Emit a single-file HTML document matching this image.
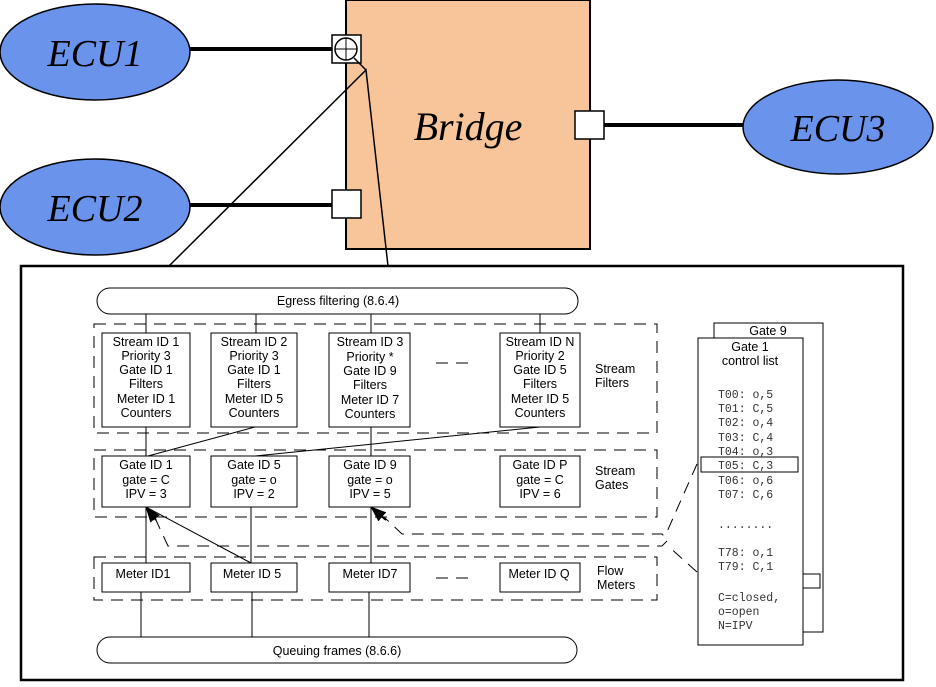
<!DOCTYPE html>
<html><head><style>
body{margin:0;background:#fff;}
svg text{font-family:"Liberation Sans",Arial,sans-serif;}
svg text.ser{font-family:"Liberation Serif","Times New Roman",serif !important;font-style:italic;}
.s{font-size:12.5px;text-anchor:middle;}
svg text.m{font-family:"Liberation Mono",monospace !important;font-size:11.5px;fill:#333;}
</style></head><body>
<svg width="936" height="682" viewBox="0 0 936 682" xmlns="http://www.w3.org/2000/svg">
<defs><marker id="ah" markerWidth="16" markerHeight="12" refX="15" refY="6" orient="auto" markerUnits="userSpaceOnUse"><path d="M0,0 L16,6 L0,12 Z" fill="#000"/></marker></defs>
<rect x="346" y="0" width="244" height="249" fill="#f8c49a" stroke="#000" stroke-width="2"/>
<text class="ser" x="468" y="140" font-size="40" text-anchor="middle">Bridge</text>
<line x1="190" y1="49" x2="332" y2="49" stroke="#000" stroke-width="4"/>
<line x1="190" y1="205" x2="332" y2="205" stroke="#000" stroke-width="4"/>
<line x1="604" y1="125" x2="745" y2="125" stroke="#000" stroke-width="4"/>
<ellipse cx="95" cy="52" rx="95" ry="48" fill="#6a94ec" stroke="#000" stroke-width="1.5"/>
<ellipse cx="95" cy="207" rx="95" ry="48" fill="#6a94ec" stroke="#000" stroke-width="1.5"/>
<ellipse cx="838" cy="127" rx="95" ry="47" fill="#6a94ec" stroke="#000" stroke-width="1.5"/>
<text class="ser" x="95" y="66" font-size="38" text-anchor="middle">ECU1</text>
<text class="ser" x="95" y="221" font-size="38" text-anchor="middle">ECU2</text>
<text class="ser" x="838" y="141" font-size="38" text-anchor="middle">ECU3</text>
<rect x="332" y="35" width="29" height="28" fill="#fff" stroke="#000" stroke-width="1.5"/>
<circle cx="346" cy="49" r="11" fill="none" stroke="#000" stroke-width="1.5"/>
<line x1="335" y1="49" x2="357" y2="49" stroke="#000"/><line x1="346" y1="38" x2="346" y2="60" stroke="#000"/>
<rect x="332" y="190" width="29" height="28" fill="#fff" stroke="#000" stroke-width="1.5"/>
<rect x="575" y="111" width="29" height="28" fill="#fff" stroke="#000" stroke-width="1.5"/>
<line x1="354" y1="58" x2="366" y2="70" stroke="#000" stroke-width="1.5"/>
<polyline points="168,267 366,70 388,266" fill="none" stroke="#000" stroke-width="1.5"/>
<rect x="21" y="266" width="882" height="414" fill="#fff" stroke="#000" stroke-width="2.5"/>
<rect x="97" y="288" width="481" height="26" rx="13" fill="#fff" stroke="#000"/>
<text class="s" x="338" y="305">Egress filtering (8.6.4)</text>
<g fill="none" stroke="#000" stroke-dasharray="12,8">
<rect x="94" y="324" width="563" height="109"/>
<rect x="94" y="450" width="563" height="67"/>
<rect x="94" y="557" width="563" height="43"/>
<line x1="436" y1="363" x2="470" y2="363"/>
<line x1="436" y1="578" x2="470" y2="578"/>
<polyline points="155,518 168,546 662,546 668,540 662,534 402,534 385,518"/>
<line x1="697" y1="464" x2="666" y2="534"/>
<line x1="697" y1="572" x2="668" y2="546"/>
</g>
<g stroke="#000" fill="none">
<line x1="146" y1="314" x2="146" y2="333"/><line x1="256" y1="314" x2="256" y2="333"/>
<line x1="371" y1="314" x2="371" y2="333"/><line x1="540" y1="314" x2="540" y2="333"/>
<line x1="146" y1="427" x2="146" y2="456"/><line x1="255" y1="427" x2="148" y2="456"/>
<line x1="371" y1="427" x2="371" y2="456"/><line x1="540" y1="427" x2="255" y2="456"/>
<line x1="146" y1="563" x2="146" y2="507"/><line x1="251" y1="563" x2="251" y2="507"/>
<line x1="251" y1="563" x2="146" y2="507"/><line x1="371" y1="563" x2="371" y2="507"/>
<line x1="141" y1="592" x2="141" y2="637"/><line x1="252" y1="592" x2="252" y2="637"/><line x1="369" y1="592" x2="369" y2="637"/>
<line x1="156" y1="520" x2="146" y2="507" stroke-width="2" marker-end="url(#ah)"/>
<line x1="386" y1="520" x2="371" y2="507" stroke-width="2" marker-end="url(#ah)"/>
</g>
<g fill="#fff" stroke="#000">
<rect x="102" y="333" width="88" height="94"/><rect x="211" y="333" width="86" height="94"/>
<rect x="329" y="333" width="81" height="94"/><rect x="500" y="333" width="80" height="94"/>
<rect x="102" y="456" width="88" height="51"/><rect x="211" y="456" width="86" height="51"/>
<rect x="329" y="456" width="81" height="51"/><rect x="500" y="456" width="80" height="51"/>
<rect x="102" y="563" width="88" height="29"/><rect x="211" y="563" width="86" height="29"/>
<rect x="329" y="563" width="81" height="29"/><rect x="500" y="563" width="80" height="29"/>
</g>
<g>
<text class="s" x="146" y="346">Stream ID 1</text><text class="s" x="146" y="360">Priority 3</text><text class="s" x="146" y="374">Gate ID 1</text><text class="s" x="146" y="388">Filters</text><text class="s" x="146" y="403">Meter ID 1</text><text class="s" x="146" y="417">Counters</text>
<text class="s" x="254" y="346">Stream ID 2</text><text class="s" x="254" y="360">Priority 3</text><text class="s" x="254" y="374">Gate ID 1</text><text class="s" x="254" y="388">Filters</text><text class="s" x="254" y="403">Meter ID 5</text><text class="s" x="254" y="417">Counters</text>
<text class="s" x="370" y="346">Stream ID 3</text><text class="s" x="370" y="361">Priority *</text><text class="s" x="370" y="375">Gate ID 9</text><text class="s" x="370" y="389">Filters</text><text class="s" x="370" y="404">Meter ID 7</text><text class="s" x="370" y="418">Counters</text>
<text class="s" x="540" y="346">Stream ID N</text><text class="s" x="540" y="360">Priority 2</text><text class="s" x="540" y="374">Gate ID 5</text><text class="s" x="540" y="388">Filters</text><text class="s" x="540" y="403">Meter ID 5</text><text class="s" x="540" y="417">Counters</text>
<text class="s" x="146" y="469">Gate ID 1</text><text class="s" x="146" y="484">gate = C</text><text class="s" x="146" y="498">IPV = 3</text>
<text class="s" x="254" y="469">Gate ID 5</text><text class="s" x="254" y="484">gate = o</text><text class="s" x="254" y="498">IPV = 2</text>
<text class="s" x="370" y="469">Gate ID 9</text><text class="s" x="370" y="484">gate = o</text><text class="s" x="370" y="498">IPV = 5</text>
<text class="s" x="540" y="469">Gate ID P</text><text class="s" x="540" y="484">gate = C</text><text class="s" x="540" y="498">IPV = 6</text>
<text class="s" x="143" y="578">Meter ID1</text><text class="s" x="252" y="578">Meter ID 5</text><text class="s" x="370" y="578">Meter ID7</text><text class="s" x="539" y="578">Meter ID Q</text>
</g>
<g font-size="12.5">
<text x="595" y="373">Stream</text><text x="595" y="387">Filters</text>
<text x="595" y="475">Stream</text><text x="595" y="489">Gates</text>
<text x="597" y="575">Flow</text><text x="597" y="589">Meters</text>
</g>
<rect x="97" y="637" width="480" height="26" rx="13" fill="#fff" stroke="#000"/>
<text class="s" x="337" y="655">Queuing frames (8.6.6)</text>
<rect x="714" y="323" width="109" height="309" fill="#fff" stroke="#000"/>
<rect x="803" y="574" width="17" height="14" fill="#fff" stroke="#000"/>
<rect x="698" y="338" width="105" height="307" fill="#fff" stroke="#000"/>
<text class="s" x="768" y="335">Gate 9</text>
<text class="s" x="750" y="351">Gate 1</text><text class="s" x="750" y="365">control list</text>
<rect x="701" y="457" width="97" height="15" fill="none" stroke="#000"/>
<text class="m" x="718" y="398">T00: o,5</text><text class="m" x="718" y="412">T01: C,5</text><text class="m" x="718" y="426">T02: o,4</text><text class="m" x="718" y="441">T03: C,4</text><text class="m" x="718" y="455">T04: o,3</text><text class="m" x="718" y="469">T05: C,3</text><text class="m" x="718" y="484">T06: o,6</text><text class="m" x="718" y="498">T07: C,6</text>
<text class="m" x="718" y="528">........</text>
<text class="m" x="718" y="556">T78: o,1</text><text class="m" x="718" y="570">T79: C,1</text>
<text class="m" x="718" y="601">C=closed,</text><text class="m" x="718" y="615">o=open</text><text class="m" x="718" y="629">N=IPV</text>
</svg>
</body></html>
